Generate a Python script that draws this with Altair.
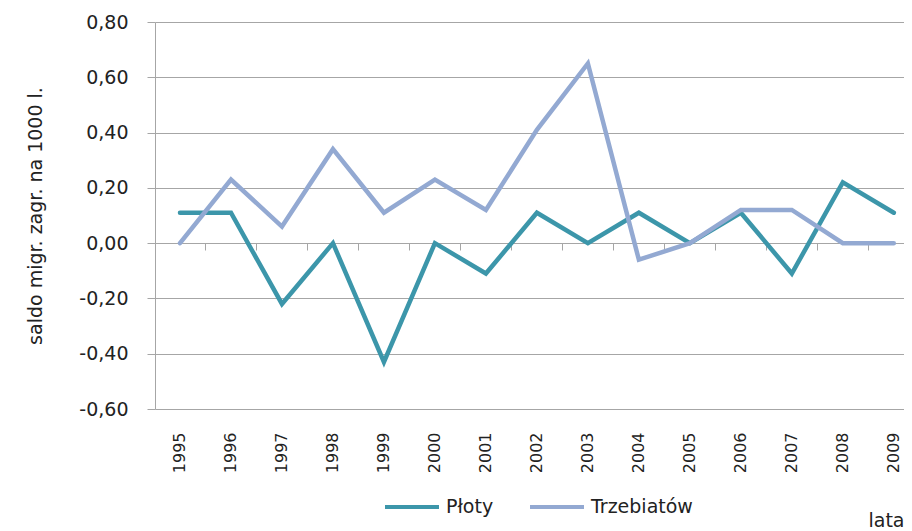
import altair as alt
import pandas as pd

# ---- data ----
years = [1995, 1996, 1997, 1998, 1999, 2000, 2001, 2002, 2003, 2004, 2005, 2006, 2007, 2008, 2009]
ploty = [0.11, 0.11, -0.22, 0.00, -0.43, 0.00, -0.11, 0.11, 0.00, 0.11, 0.00, 0.11, -0.11, 0.22, 0.11]
trzebiatow = [0.00, 0.23, 0.06, 0.34, 0.11, 0.23, 0.12, 0.41, 0.65, -0.06, 0.00, 0.12, 0.12, 0.00, 0.00]
series_names = ["Płoty", "Trzebiatów"]
series_colors = ["#3C96AA", "#93A9D2"]
y_tick_values = [-0.6, -0.4, -0.2, 0.0, 0.2, 0.4, 0.6, 0.8]
category_boundaries = [1995.5, 1996.5, 1997.5, 1998.5, 1999.5, 2000.5, 2001.5,
                       2002.5, 2003.5, 2004.5, 2005.5, 2006.5, 2007.5, 2008.5]
y_title = "saldo migr. zagr. na 1000 l."
x_title = "lata"

rows = []
for name, vals in zip(series_names, [ploty, trzebiatow]):
    for yr, v in zip(years, vals):
        rows.append({"year": yr, "value": v, "series": name})
df = pd.DataFrame(rows)

FONT = "DejaVu Sans"
TXT = "#222222"
GRID = "#A6A6A6"

x_scale = alt.Scale(domain=[1994.51, 2009.2], nice=False, zero=False)
y_scale = alt.Scale(domain=[-0.6, 0.8], nice=False, zero=False)

label_expr = "replace(replace(format(datum.value, '.2f'), '.', ','), '\u2212', '-')"

lines = alt.Chart(df).mark_line(strokeWidth=4.5, strokeCap="round").encode(
    x=alt.X(
        "year:Q",
        scale=x_scale,
        axis=alt.Axis(
            orient="bottom",
            values=years,
            format="d",
            labelAngle=270,
            ticks=False,
            domain=False,
            grid=False,
            labelPadding=23,
            labelFont=FONT,
            labelFontSize=16,
            labelColor=TXT,
            title=x_title,
            titleX=731,
            titleY=111,
            titleAlign="center",
            titleBaseline="middle",
            titleFont=FONT,
            titleFontSize=19,
            titleFontWeight="normal",
            titleColor=TXT,
        ),
    ),
    y=alt.Y(
        "value:Q",
        scale=y_scale,
        axis=alt.Axis(
            values=y_tick_values,
            labelExpr=label_expr,
            grid=True,
            gridColor=GRID,
            gridWidth=1,
            domain=True,
            domainColor=GRID,
            ticks=True,
            tickColor=GRID,
            tickSize=8,
            labelPadding=19,
            labelFont=FONT,
            labelFontSize=19,
            labelColor=TXT,
            title=y_title,
            titleAngle=270,
            titleX=-120,
            titleBaseline="middle",
            titleFont=FONT,
            titleFontSize=19,
            titleFontWeight="normal",
            titleColor=TXT,
        ),
    ),
    color=alt.Color(
        "series:N",
        scale=alt.Scale(domain=series_names, range=series_colors),
        legend=alt.Legend(
            orient="none",
            legendX=228,
            legendY=456,
            direction="horizontal",
            title=None,
            symbolType="stroke",
            symbolSize=2916,
            symbolStrokeWidth=4,
            labelFont=FONT,
            labelFontSize=19,
            labelColor=TXT,
            labelOffset=5,
            columnPadding=28,
        ),
    ),
)

zero_ticks = alt.Chart(df).mark_point(opacity=0).encode(
    x=alt.X(
        "year:Q",
        scale=x_scale,
        axis=alt.Axis(
            orient="bottom",
            offset=-166,
            values=category_boundaries,
            labels=False,
            ticks=True,
            tickSize=7,
            tickColor=GRID,
            domain=True,
            domainColor=GRID,
            grid=False,
            title=None,
        ),
    ),
    y=alt.Y("value:Q", scale=y_scale),
)

chart = alt.layer(lines, zero_ticks).resolve_axis(x="independent").properties(
    width=749,
    height=387,
    padding={"left": 147, "top": 14, "right": 0, "bottom": 122},
    autosize=alt.AutoSizeParams(type="none"),
).configure_view(stroke=None)

chart.save("out.html", embed_options={"renderer": "svg", "actions": False})
